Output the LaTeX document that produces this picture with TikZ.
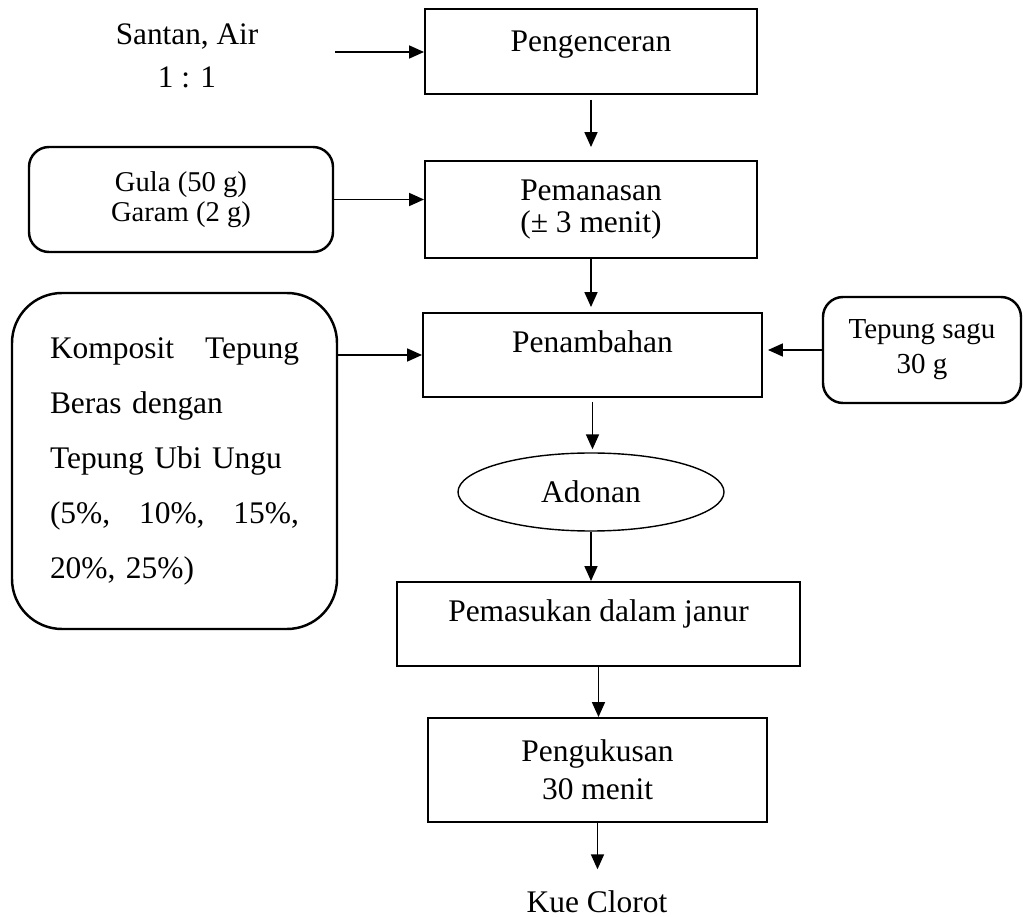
\documentclass[tikz,border=0pt]{standalone}
\usepackage{fontspec}
\setmainfont{Liberation Serif}
\usepackage{tikz}
\usetikzlibrary{shapes.geometric, arrows.meta, positioning}
\tikzstyle{arrow} = [line width=1pt, -{Triangle[length=0.3cm, width=0.26cm]}]

\begin{document}
\begin{tikzpicture}[proc/.style={draw, line width=1.1pt, align=center, inner xsep=0pt, font={\fontsize{17.9}{17.9}\selectfont}}, onebox/.style={proc, inner ysep=0pt, text height=0.8cm, text depth=0.88cm}, soft/.style={draw, line width=1.4pt, rounded corners=0.4cm, align=center}]
    \useasboundingbox (0,0) rectangle (20.46,-18.34);
    % main column
    \node[onebox, minimum width=6.64cm, minimum height=1.7cm, text height=0.86cm, text depth=0.84cm] (peng) at (11.82,-1.03) {Pengenceran};
    \node[proc, minimum width=6.64cm, minimum height=1.94cm] (peman) at (11.82,-4.19) {Pemanasan\\(± 3 menit)};
    \node[onebox, minimum width=6.78cm, minimum height=1.68cm] (tambah) at (11.85,-7.1) {Penambahan};
    \node[draw, ellipse, line width=0.8pt, inner sep=0pt, minimum width=5.32cm, minimum height=1.56cm, font={\fontsize{17.9}{17.9}\selectfont}] (adonan) at (11.82,-9.84) {Adonan};
    \node[onebox, minimum width=8.06cm, minimum height=1.68cm] (masuk) at (11.97,-12.48) {Pemasukan dalam janur};
    \node[proc, minimum width=6.78cm, minimum height=2.08cm, font={\fontsize{17.9}{21.6}\selectfont}] (kukus) at (11.95,-15.4) {Pengukusan\\30 menit};
    \node[font={\fontsize{17.9}{17.9}\selectfont}, anchor=base, inner ysep=0.41cm] (kue) at (11.94,-18.24) {Kue Clorot};
    % inputs
    \node[font={\fontsize{17.8}{24.4}\selectfont}, align=center] (santan) at (3.74,-1.12) {Santan, Air\\1 : 1};
    \coordinate (santanout) at (6.7,-1.04);
    \node[soft, minimum width=6.08cm, minimum height=2.1cm, font={\fontsize{16.3}{17.2}\selectfont}] (gula) at (3.62,-3.99) {Gula (50 g)\\Garam (2 g)};
    \node[soft, rounded corners=1cm, minimum width=6.5cm, minimum height=6.72cm, text width=4.98cm, align=left, inner xsep=0pt, font={\fontsize{17.9}{31.3}\selectfont}] (komposit) at (3.49,-9.22) {Komposit\hfill Tepung\\Beras dengan\\Tepung Ubi Ungu\\(5\%,\hfill 10\%,\hfill 15\%,\\20\%, 25\%)};
    \node[soft, minimum width=3.96cm, minimum height=2.12cm, font={\fontsize{16.5}{19.8}\selectfont}] (sagu) at (18.44,-7.0) {Tepung sagu\\30 g};
    % connectors
    \draw[arrow] (santanout) -- (santanout -| peng.west);
    \draw[arrow] (gula.east) -- (gula.east -| peman.west);
    \draw[arrow] (komposit.east |- tambah.west) -- (tambah.west);
    \draw[arrow, shorten >=0.1cm] (sagu.west) -- (sagu.west -| tambah.east);
    \draw[arrow, shorten <=0.1cm, shorten >=0.26cm] (peng.south) -- (peman.north);
    \draw[arrow, shorten >=0.1cm] (peman.south) -- (peman.south |- tambah.north);
    \draw[arrow, shorten <=0.08cm, shorten >=0.06cm] (tambah.south) -- (tambah.south |- adonan.north);
    \draw[arrow] (adonan.south) -- (adonan.south |- masuk.north);
    \draw[arrow] (masuk.south) -- (masuk.south |- kukus.north);
    \draw[arrow] (kukus.south) -- (kukus.south |- kue.north);
\end{tikzpicture}
\end{document}
